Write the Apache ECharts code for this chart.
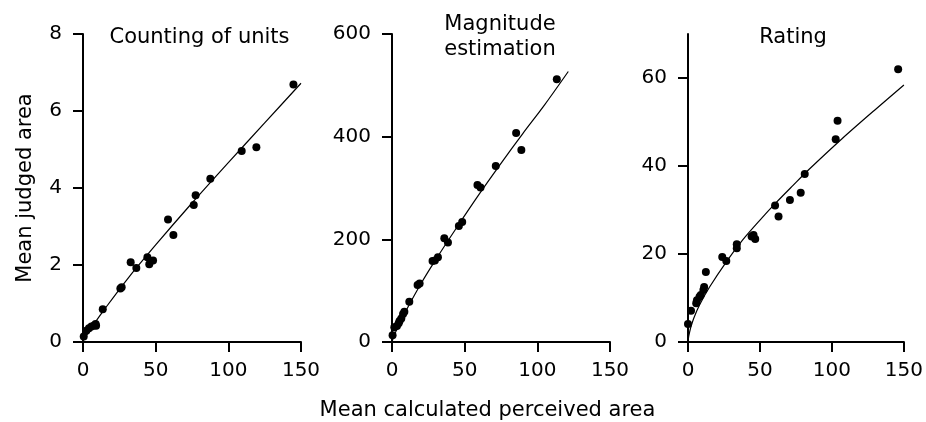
<!DOCTYPE html>
<html>
<head>
<meta charset="utf-8">
<script src="https://cdn.jsdelivr.net/npm/echarts@6/dist/echarts.min.js"></script>
<style>html,body{margin:0;padding:0;background:#fff}#c{width:926px;height:422px}</style>
</head>
<body>
<div id="c"></div>
<script>
// Panel titles and axis titles
const panelTitles = ['Counting of units', 'Magnitude\nestimation', 'Rating'];
const xAxisTitle = 'Mean calculated perceived area';
const yAxisTitle = 'Mean judged area';
const xTicks = [0, 50, 100, 150];
const yTicks1 = [0, 2, 4, 6, 8];
const yTicks2 = [0, 200, 400, 600];
const yTicks3 = [0, 20, 40, 60];

// Counting of units
const countX = [0.5, 2.3, 4.1, 5.8, 7.6, 8.7, 9.0, 13.6, 25.7, 26.6, 32.8, 36.7, 44.3, 45.6, 48.2, 58.5, 62.2, 76.2, 77.5, 87.6, 109.2, 119.3, 144.8];
const countY = [0.14, 0.29, 0.36, 0.40, 0.43, 0.47, 0.42, 0.85, 1.39, 1.42, 2.07, 1.92, 2.20, 2.02, 2.12, 3.18, 2.78, 3.56, 3.81, 4.24, 4.96, 5.06, 6.69];
const countFitX = [0, 1, 3, 8, 15, 30, 50, 75, 100, 125, 150];
const countFitY = [0.02, 0.08, 0.21, 0.49, 0.86, 1.61, 2.52, 3.61, 4.66, 5.69, 6.72];

// Magnitude estimation
const magX = [0.4, 1.6, 3.4, 4.6, 5.2, 6.4, 7.6, 8.5, 11.9, 17.6, 19.0, 27.9, 29.5, 31.6, 36.0, 38.5, 46.0, 48.3, 58.8, 60.9, 71.4, 85.4, 89.0, 113.4];
const magY = [13, 28.7, 31, 36.5, 41, 46, 54.6, 59, 78.6, 111, 114, 158, 159, 165, 202, 194, 226, 234, 306, 301, 343, 407, 374, 512];
const magFitX = [0, 0.5, 2, 5, 10, 20, 30, 45, 60, 75, 90, 105, 121.3];
const magFitY = [0, 5, 16, 35, 63, 114, 160, 225, 288, 348, 406, 462, 527];

// Rating
const rateX = [0.0, 2.1, 5.7, 6.2, 8.0, 8.9, 10.7, 11.2, 12.4, 23.8, 26.6, 33.9, 33.9, 44.2, 45.5, 46.7, 60.5, 62.9, 70.8, 78.3, 81.1, 102.6, 103.9, 146.0];
const rateY = [4.1, 7.1, 8.8, 9.5, 10.3, 10.7, 11.8, 12.5, 15.9, 19.3, 18.4, 21.3, 22.2, 24.0, 24.3, 23.4, 31.0, 28.5, 32.3, 33.9, 38.2, 46.1, 50.3, 62.0];
const rateFitX = [0, 0.5, 1, 2, 4, 8, 15, 27, 38, 50, 61, 73, 84, 107, 130, 150];
const rateFitY = [0, 1.3, 2.1, 3.4, 5.4, 8.4, 12.5, 18.4, 23.2, 27.7, 31.6, 35.6, 39.2, 46.2, 52.8, 58.4];

const zip = (a, b) => a.map((v, i) => [v, b[i]]);

const FONT = 'DejaVu Sans';
const lineSt = () => ({ color: '#000', width: 2 });

function xAxis(gi) {
  return {
    type: 'value', gridIndex: gi, min: 0, max: 150, interval: 50,
    axisLine: { show: true, onZero: false, lineStyle: lineSt() },
    axisTick: { show: true, length: 10, lineStyle: lineSt() },
    axisLabel: { color: '#000', fontSize: 20, fontFamily: FONT, margin: 19 },
    splitLine: { show: false }
  };
}
function yAxis(gi, max, interval, ticks, extra) {
  return Object.assign({
    type: 'value', gridIndex: gi, min: 0, max: max, interval: interval,
    axisLine: { show: true, onZero: false, lineStyle: lineSt() },
    axisTick: { show: true, length: 10, lineStyle: lineSt(), customValues: ticks },
    axisLabel: { color: '#000', fontSize: 20, fontFamily: FONT, margin: 21, customValues: ticks },
    splitLine: { show: false }
  }, extra || {});
}

function scatter(gi, xs, ys) {
  return { type: 'scatter', xAxisIndex: gi, yAxisIndex: gi, data: zip(xs, ys), symbolSize: 8,
    itemStyle: { color: '#000', opacity: 1 }, z: 3, silent: true };
}
function fit(gi, xs, ys) {
  return { type: 'line', xAxisIndex: gi, yAxisIndex: gi, data: zip(xs, ys), showSymbol: false,
    smooth: 0.3, lineStyle: { color: '#000', width: 1.2 }, z: 2, silent: true };
}

const chart = echarts.init(document.getElementById('c'), null, { renderer: 'canvas' });
chart.setOption({
  animation: false,
  backgroundColor: '#fff',
  grid: [
    { left: 83, top: 34, width: 218, height: 308 },
    { left: 392, top: 34, width: 218, height: 308 },
    { left: 688, top: 34, width: 218, height: 308 }
  ],
  xAxis: [xAxis(0), xAxis(1), xAxis(2)],
  yAxis: [
    yAxis(0, 8, 2, yTicks1, { name: yAxisTitle, nameLocation: 'middle', nameGap: 47,
      nameTextStyle: { color: '#000', fontSize: 21, fontFamily: FONT } }),
    yAxis(1, 600, 200, yTicks2),
    yAxis(2, 70, 10, yTicks3)
  ],
  graphic: [
    { type: 'text', x: 199.5, y: 38, style: { text: panelTitles[0], align: 'center', verticalAlign: 'middle', fill: '#000', font: '21px "DejaVu Sans"' } },
    { type: 'text', x: 500, y: 37, style: { text: panelTitles[1], align: 'center', verticalAlign: 'middle', lineHeight: 25, fill: '#000', font: '21px "DejaVu Sans"' } },
    { type: 'text', x: 793, y: 38, style: { text: panelTitles[2], align: 'center', verticalAlign: 'middle', fill: '#000', font: '21px "DejaVu Sans"' } },
    { type: 'text', x: 487.5, y: 411, style: { text: xAxisTitle, align: 'center', verticalAlign: 'middle', fill: '#000', font: '21px "DejaVu Sans"' } }
  ],
  series: [
    fit(0, countFitX, countFitY),
    scatter(0, countX, countY),
    fit(1, magFitX, magFitY),
    scatter(1, magX, magY),
    fit(2, rateFitX, rateFitY),
    scatter(2, rateX, rateY)
  ]
});
</script>
</body>
</html>
